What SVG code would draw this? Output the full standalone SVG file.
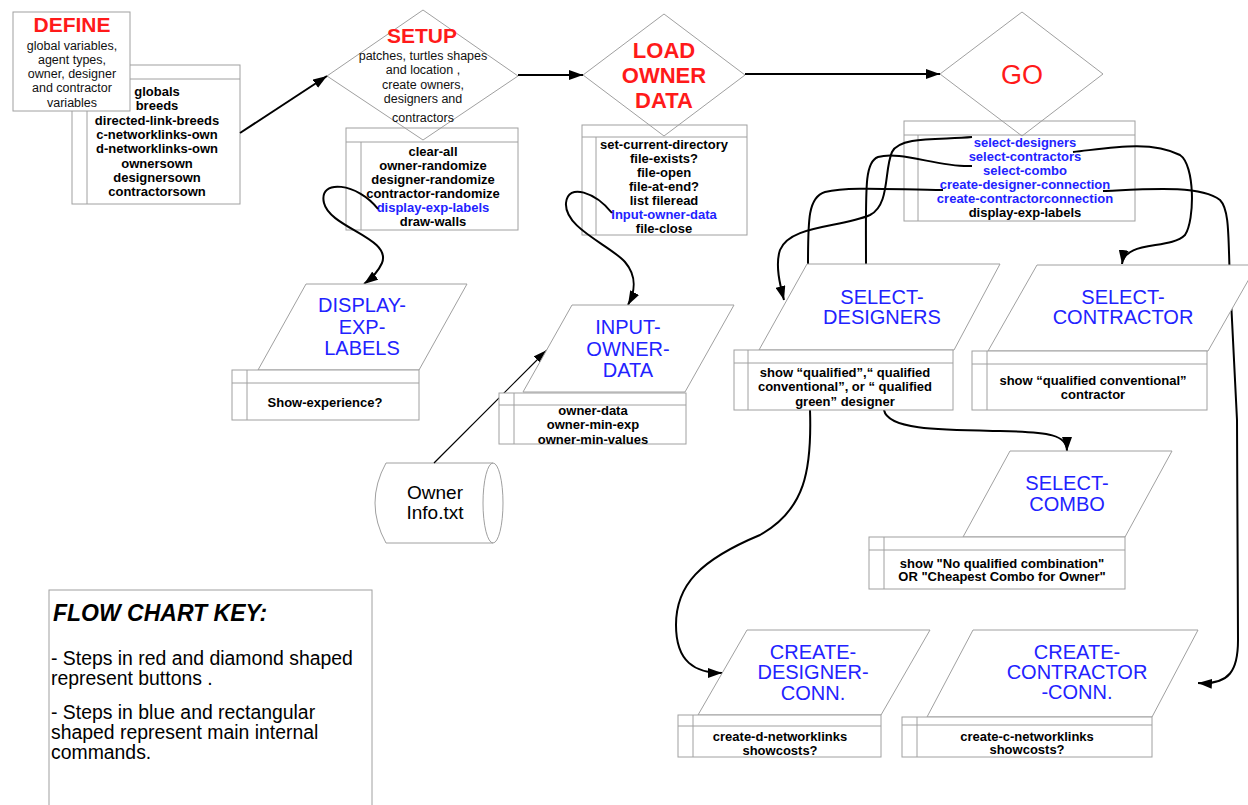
<svg xmlns="http://www.w3.org/2000/svg" width="1248" height="805" viewBox="0 0 1248 805">
<style>
.bg{fill:#fff}
.sh{fill:#fff;stroke:#a0a0a0;stroke-width:1}
.nf{fill:none;stroke:#a0a0a0;stroke-width:1}
.ln{stroke:#a0a0a0;stroke-width:1}
.c{fill:none;stroke:#000;stroke-width:2}
.t{font-family:"Liberation Sans",Arial,sans-serif}
.red{fill:#ff1a1a;font-weight:bold;text-anchor:middle}
.blue{fill:#2222ff;font-size:20px;text-anchor:middle}
.d{font-size:12.5px;fill:#111;text-anchor:middle}
.l{font-size:13px;font-weight:bold;fill:#000;text-anchor:middle}
.lb{fill:#2222ff}
.k{font-size:19.4px;fill:#000}
</style>
<defs>
<marker id="ah" markerUnits="userSpaceOnUse" markerWidth="14" markerHeight="10" refX="14" refY="5" orient="auto">
<path d="M0,0 L14,5 L0,10 Z" fill="#000"/>
</marker>
</defs>
<rect class="bg" x="0" y="0" width="1248" height="805"/>

<g id="define">
<rect class="sh" x="72" y="65" width="168" height="139"/>
<line class="ln" x1="72" y1="79" x2="240" y2="79"/>
<line class="ln" x1="87" y1="79" x2="87" y2="204"/>
<g class="t l">
<text x="157" y="96">globals</text>
<text x="157" y="110.3">breeds</text>
<text x="157" y="124.6">directed-link-breeds</text>
<text x="157" y="138.9">c-networklinks-own</text>
<text x="157" y="153.2">d-networklinks-own</text>
<text x="157" y="167.5">ownersown</text>
<text x="157" y="181.8">designersown</text>
<text x="157" y="196">contractorsown</text>
</g>
<rect class="sh" x="13" y="12" width="117" height="99"/>
<text class="t red" x="72" y="31.5" font-size="21">DEFINE</text>
<g class="t d">
<text x="72" y="49.5">global variables,</text>
<text x="72" y="63.8">agent types,</text>
<text x="72" y="78.1">owner, designer</text>
<text x="72" y="92.4">and contractor</text>
<text x="72" y="106.7">variables</text>
</g>
</g>

<g id="setup">
<rect class="sh" x="346" y="128" width="172" height="102"/>
<line class="ln" x1="346" y1="142" x2="518" y2="142"/>
<line class="ln" x1="361" y1="142" x2="361" y2="230"/>
<polygon class="nf" points="423,10 518,76 423,140 327,76"/>
<text class="t red" x="422" y="42.5" font-size="21">SETUP</text>
<g class="t d">
<text x="423" y="59.5">patches, turtles shapes</text>
<text x="423" y="74">and location ,</text>
<text x="423" y="88.5">create owners,</text>
<text x="423" y="102.5">designers and</text>
<text x="423" y="121.5">contractors</text>
</g>
<g class="t l">
<text x="433" y="156">clear-all</text>
<text x="433" y="170">owner-randomize</text>
<text x="433" y="184">designer-randomize</text>
<text x="433" y="198">contractor-randomize</text>
<text x="433" y="212" class="lb">display-exp-labels</text>
<text x="433" y="226">draw-walls</text>
</g>
</g>

<g id="load">
<rect class="sh" x="582" y="125" width="165" height="110"/>
<line class="ln" x1="582" y1="137" x2="747" y2="137"/>
<line class="ln" x1="596" y1="137" x2="596" y2="235"/>
<polygon class="nf" points="664,14 745,75 664,136 583,75"/>
<g class="t red" font-size="22">
<text x="664" y="58">LOAD</text>
<text x="664" y="83">OWNER</text>
<text x="664" y="108">DATA</text>
</g>
<g class="t l">
<text x="664" y="148.5">set-current-directory</text>
<text x="664" y="162.6">file-exists?</text>
<text x="664" y="176.7">file-open</text>
<text x="664" y="190.8">file-at-end?</text>
<text x="664" y="204.9">list fileread</text>
<text x="664" y="219" class="lb">Input-owner-data</text>
<text x="664" y="233">file-close</text>
</g>
</g>

<g id="go">
<rect class="sh" x="904" y="121" width="231" height="100"/>
<line class="ln" x1="904" y1="135" x2="1135" y2="135"/>
<line class="ln" x1="918" y1="135" x2="918" y2="221"/>
<polygon class="nf" points="1022,12 1103,74 1022,136 940,74"/>
<text class="t" x="1022" y="84" font-size="27" fill="#ff1a1a" text-anchor="middle">GO</text>
<g class="t l">
<text x="1025" y="147" class="lb">select-designers</text>
<text x="1025" y="161" class="lb">select-contractors</text>
<text x="1025" y="175" class="lb">select-combo</text>
<text x="1025" y="189" class="lb">create-designer-connection</text>
<text x="1025" y="203" class="lb">create-contractorconnection</text>
<text x="1025" y="217">display-exp-labels</text>
</g>
</g>

<g id="owner-file">
<path class="sh" d="M386,463 L493,463 A10,40 0 0 1 493,543 L386,543 Q364,503 386,463 Z"/>
<path class="nf" d="M493,463 A10,40 0 0 0 493,543"/>
<text class="t" x="435" y="499" font-size="19" text-anchor="middle" fill="#000">Owner</text>
<text class="t" x="435" y="519" font-size="19" text-anchor="middle" fill="#000">Info.txt</text>
</g>

<g id="connectors">
<path class="c" d="M240,133 L327,76" marker-end="url(#ah)"/>
<path class="c" d="M518,75 L583,75" marker-end="url(#ah)"/>
<path class="c" d="M745,74 L940,74" marker-end="url(#ah)"/>
<path class="c" d="M378,209 C358,183 318,178 324,203 C330,228 392,238 382,263 C378,272 372,278 364,284" marker-end="url(#ah)"/>
<path class="c" d="M612,213 C596,193 568,182 566,203 C564,228 610,245 625,262 C637,276 635,292 628,305" marker-end="url(#ah)"/>
<path class="c" style="stroke-width:1.2" d="M434,463 L547,350" marker-end="url(#ah)"/>
<path class="c" d="M972,137 C940,140 900,136 892,152 C884,170 890,205 870,215 C840,228 790,225 780,250 C775,265 780,285 784,300" marker-end="url(#ah)"/>
<path class="c" d="M1073,152 C1110,148 1150,140 1180,155 C1195,165 1195,220 1185,235 C1170,250 1125,240 1122,264" marker-end="url(#ah)"/>
<path class="c" d="M972,166 C940,168 900,150 878,157 C864,162 866,190 866,264 L884,410 C888,430 940,430 1000,431 C1050,432 1067,435 1067,451" marker-end="url(#ah)"/>
<path class="c" d="M943,190 C900,190 850,186 825,192 C808,197 808,220 808,264 L810,410 C812,470 805,510 760,535 C700,560 676,585 676,625 C676,662 695,673 722,673" marker-end="url(#ah)"/>
<path class="c" d="M1103,191 C1150,189 1200,185 1220,200 C1230,210 1228,240 1230,280 L1237,420 L1238,640 C1238,670 1230,685 1198,683" marker-end="url(#ah)"/>
</g>

<g id="display-exp-labels">
<polygon class="sh" points="306,284 467,284 419,370 258,370"/>
<g class="t blue">
<text x="362" y="312">DISPLAY-</text>
<text x="362" y="334">EXP-</text>
<text x="362" y="355">LABELS</text>
</g>
<rect class="sh" x="232" y="370" width="187" height="50"/>
<line class="ln" x1="232" y1="383" x2="419" y2="383"/>
<line class="ln" x1="247" y1="370" x2="247" y2="420"/>
<text class="t l" x="325" y="407">Show-experience?</text>
</g>

<g id="input-owner-data">
<polygon class="sh" points="572,305 734,305 685,392 523,392"/>
<g class="t blue">
<text x="628" y="334">INPUT-</text>
<text x="628" y="355.5">OWNER-</text>
<text x="628" y="377">DATA</text>
</g>
<rect class="sh" x="499" y="393" width="187" height="51"/>
<line class="ln" x1="499" y1="405" x2="686" y2="405"/>
<line class="ln" x1="514" y1="393" x2="514" y2="444"/>
<g class="t l">
<text x="593" y="414.5">owner-data</text>
<text x="593" y="429">owner-min-exp</text>
<text x="593" y="443.5">owner-min-values</text>
</g>
</g>

<g id="select-designers">
<polygon class="sh" points="807,264 1000,264 954,350 759,350"/>
<g class="t blue">
<text x="882" y="304">SELECT-</text>
<text x="882" y="324">DESIGNERS</text>
</g>
<rect class="sh" x="734" y="350" width="219" height="60"/>
<line class="ln" x1="734" y1="363" x2="953" y2="363"/>
<line class="ln" x1="748" y1="350" x2="748" y2="410"/>
<g class="t l">
<text x="845" y="377">show “qualified”,“ qualified</text>
<text x="845" y="391">conventional”, or “ qualified</text>
<text x="845" y="405.5">green” designer</text>
</g>
</g>

<g id="select-contractor">
<polygon class="sh" points="1037,265 1257,265 1208,351 988,351"/>
<g class="t blue">
<text x="1123" y="304">SELECT-</text>
<text x="1123" y="324">CONTRACTOR</text>
</g>
<rect class="sh" x="972" y="351" width="235" height="59"/>
<line class="ln" x1="972" y1="364" x2="1207" y2="364"/>
<line class="ln" x1="987" y1="351" x2="987" y2="410"/>
<g class="t l">
<text x="1093" y="384.5">show “qualified conventional”</text>
<text x="1093" y="399">contractor</text>
</g>
</g>

<g id="select-combo">
<polygon class="sh" points="1010,451 1172,451 1125,537 963,537"/>
<g class="t blue">
<text x="1067" y="490">SELECT-</text>
<text x="1067" y="511">COMBO</text>
</g>
<rect class="sh" x="869" y="537" width="256" height="52"/>
<line class="ln" x1="869" y1="550" x2="1125" y2="550"/>
<line class="ln" x1="884" y1="537" x2="884" y2="589"/>
<g class="t l">
<text x="1002" y="568">show "No qualified combination"</text>
<text x="1002" y="581">OR "Cheapest Combo for Owner"</text>
</g>
</g>

<g id="create-designer-conn">
<polygon class="sh" points="747,630 930,630 881,715 698,715"/>
<g class="t blue">
<text x="813" y="659">CREATE-</text>
<text x="813" y="679">DESIGNER-</text>
<text x="813" y="700">CONN.</text>
</g>
<rect class="sh" x="678" y="715" width="203" height="42"/>
<line class="ln" x1="678" y1="726" x2="881" y2="726"/>
<line class="ln" x1="693" y1="715" x2="693" y2="757"/>
<g class="t l">
<text x="780" y="741">create-d-networklinks</text>
<text x="780" y="755">showcosts?</text>
</g>
</g>

<g id="create-contractor-conn">
<polygon class="sh" points="973,630 1198,630 1152,717 927,717"/>
<g class="t blue">
<text x="1077" y="659">CREATE-</text>
<text x="1077" y="679">CONTRACTOR</text>
<text x="1077" y="699">-CONN.</text>
</g>
<rect class="sh" x="902" y="717" width="250" height="40"/>
<line class="ln" x1="902" y1="725" x2="1152" y2="725"/>
<line class="ln" x1="917" y1="717" x2="917" y2="757"/>
<g class="t l">
<text x="1027" y="740.5">create-c-networklinks</text>
<text x="1027" y="754">showcosts?</text>
</g>
</g>

<g id="key">
<rect class="sh" x="49" y="590" width="323" height="225"/>
<text class="t" x="53" y="621" font-size="23" font-weight="bold" font-style="italic" fill="#000">FLOW CHART KEY:</text>
<g class="t k">
<text x="51" y="665">- Steps in red and diamond shaped</text>
<text x="51" y="685">represent buttons .</text>
<text x="51" y="719">- Steps in blue and rectangular</text>
<text x="51" y="739">shaped represent  main internal</text>
<text x="51" y="759">commands.</text>
</g>
</g>
</svg>
